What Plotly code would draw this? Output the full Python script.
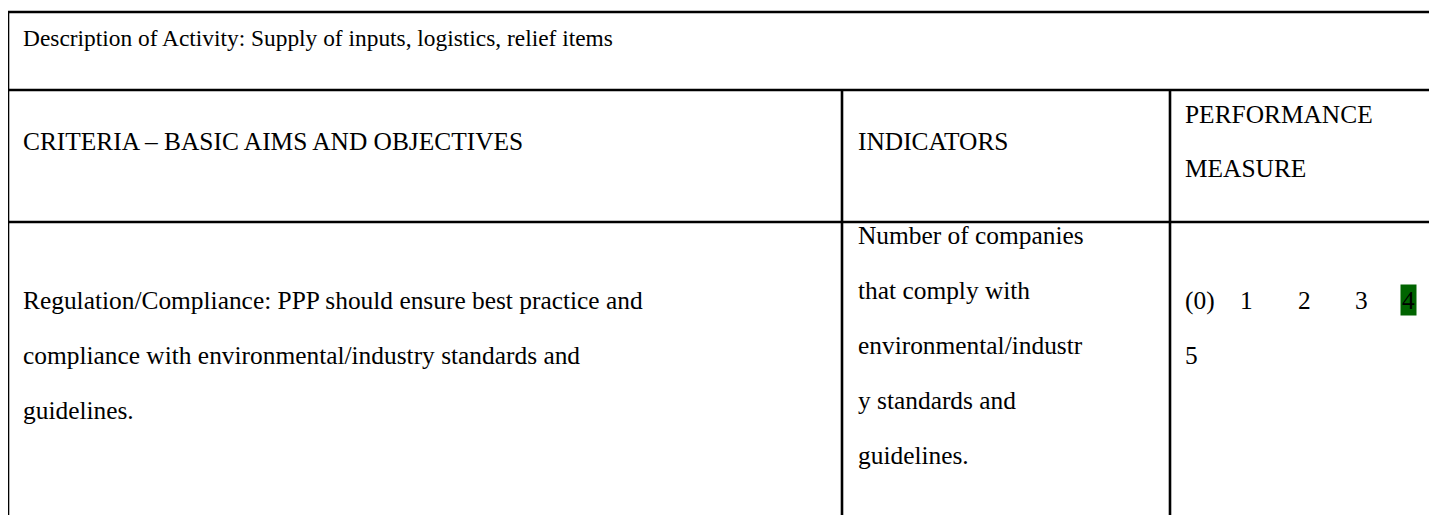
import plotly.graph_objects as go

# ---- table content (data) ----
activity_text = "Description of Activity: Supply of inputs, logistics, relief items"
header_labels = ["CRITERIA – BASIC AIMS AND OBJECTIVES", "INDICATORS"]
header_perf_lines = ["PERFORMANCE", "MEASURE"]
criteria_lines = [
    "Regulation/Compliance: PPP should ensure best practice and",
    "compliance with environmental/industry standards and",
    "guidelines.",
]
indicator_lines = [
    "Number of companies",
    "that comply with",
    "environmental/industr",
    "y standards and",
    "guidelines.",
]
scale_first_line = ["(0)", "1", "2", "3", "4"]
scale_second_line = ["5"]
selected_score = "4"

# ---- layout constants ----
W, H = 1437, 515
OFF = 8  # default page body margin; axis ranges shifted so data coords = page pixels
FONT = "Liberation Serif"
FS = 25.4
FS_DESC = 23.4
LW = 2.6
X_LEFT, Y_TOP = 8, 12
Y_ROW1, Y_ROW2 = 90, 222
X_COL1, X_COL2 = 842, 1170
TX0, TX1, TX2 = 21, 856, 1183
LINE_STEP = 55
GREEN = "#006400"

fig = go.Figure()
fig.add_trace(go.Scatter(x=[None], y=[None], showlegend=False, hoverinfo="skip"))

line = dict(color="black", width=LW)
shapes = [
    dict(type="line", x0=X_LEFT, x1=W + 20, y0=Y_TOP, y1=Y_TOP, line=line),
    dict(type="line", x0=X_LEFT, x1=X_LEFT, y0=Y_TOP, y1=H + 20, line=line),
    dict(type="line", x0=X_LEFT, x1=W + 20, y0=Y_ROW1, y1=Y_ROW1, line=line),
    dict(type="line", x0=X_LEFT, x1=W + 20, y0=Y_ROW2, y1=Y_ROW2, line=line),
    dict(type="line", x0=X_COL1, x1=X_COL1, y0=Y_ROW1, y1=H + 20, line=line),
    dict(type="line", x0=X_COL2, x1=X_COL2, y0=Y_ROW1, y1=H + 20, line=line),
]
for s in shapes:
    s.update(xref="x", yref="y", layer="above")

anns = []
def txt(x, y, t, size=FS, **kw):
    d = dict(x=x, y=y, text=t, xref="x", yref="y", showarrow=False,
             xanchor="left", yanchor="middle",
             font=dict(family=FONT, size=size, color="black"))
    d.update(kw)
    anns.append(d)

txt(TX0, 38, activity_text, size=FS_DESC)
txt(TX0, 141, header_labels[0])
txt(TX1, 141, header_labels[1])
for i, t in enumerate(header_perf_lines):
    txt(TX2, 114 + i * 54, t)
for i, t in enumerate(criteria_lines):
    txt(TX0, 300 + i * LINE_STEP, t)
for i, t in enumerate(indicator_lines):
    txt(TX1, 235 + i * LINE_STEP, t)
scale_x = [TX2, 1238, 1296, 1353, 1400]
for xpos, t in zip(scale_x, scale_first_line):
    if t == selected_score:
        txt(xpos, 300, t, bgcolor=GREEN, borderpad=1)
    else:
        txt(xpos, 300, t)
for t in scale_second_line:
    txt(TX2, 300 + LINE_STEP, t)

fig.update_layout(
    width=W, height=H,
    margin=dict(l=0, r=0, t=0, b=0),
    paper_bgcolor="white", plot_bgcolor="white",
    xaxis=dict(range=[OFF, W + OFF], visible=False, fixedrange=True),
    yaxis=dict(range=[H + OFF, OFF], visible=False, fixedrange=True),
    shapes=shapes, annotations=anns, showlegend=False,
)
fig.write_html("out.html")
